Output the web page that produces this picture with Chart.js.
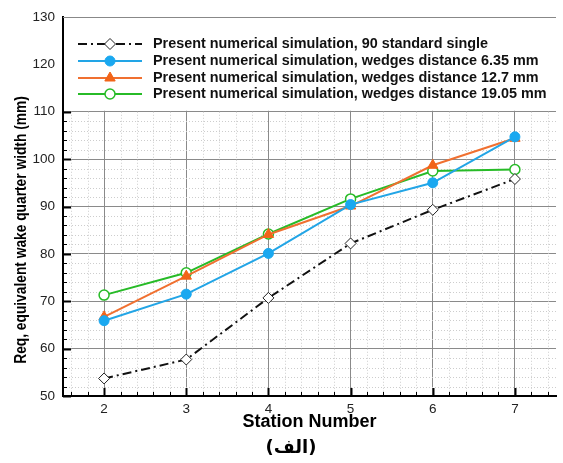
<!DOCTYPE html>
<html>
<head>
<meta charset="utf-8">
<script src="https://cdn.jsdelivr.net/npm/chart.js@4.4.1/dist/chart.umd.min.js"></script>
<style>
  body { margin: 0; background: #fff; }
  #wrap { width: 563px; height: 463px; position: relative; }
</style>
</head>
<body>
<div id="wrap"><canvas id="chart"></canvas></div>
<script>
// station numbers on the x axis
var stations = [2, 3, 4, 5, 6, 7];

// equivalent wake quarter width (mm)
var standardSingle = [53.7, 57.7, 70.7, 82.2, 89.3, 95.8];
var wedges635 = [65.9, 71.5, 80.1, 90.4, 95.0, 104.7];
var wedges127 = [66.7, 75.3, 84.1, 90.1, 98.7, 104.4];
var wedges1905 = [71.3, 76.0, 84.2, 91.6, 97.5, 97.8];

var seriesNames = [
    'Present numerical simulation, 90 standard single',
    'Present numerical simulation, wedges distance 6.35 mm',
    'Present numerical simulation, wedges distance 12.7 mm',
    'Present numerical simulation, wedges distance 19.05 mm'
];

var yTicks = [50, 60, 70, 80, 90, 100, 110, 120, 130];
var xTitle = 'Station Number';
var yTitle = 'Req, equivalent wake quarter width (mm)';
var caption = '(الف)';

var FONT = "'Liberation Sans', Arial, sans-serif";

function pts(vals) {
    return stations.map(function (s, i) { return { x: s, y: vals[i] }; });
}

// grid extras, white legend panel, inward ticks, titles
var decor = {
    id: 'decor',
    beforeDatasetsDraw: function (chart) {
        var ctx = chart.ctx;
        var a = chart.chartArea;
        var xs = chart.scales.x, ys = chart.scales.y;
        var y110 = ys.getPixelForValue(110);
        var v, p, i;

        ctx.save();
        // minor dotted grid
        ctx.strokeStyle = '#cdcdcd';
        ctx.lineWidth = 1;
        ctx.setLineDash([1, 2]);
        for (i = 8; i <= 37; i++) {
            v = i / 5;
            if (i % 5 === 0) continue;
            p = Math.round(xs.getPixelForValue(v)) + 0.5;
            ctx.beginPath(); ctx.moveTo(p, y110); ctx.lineTo(p, a.bottom); ctx.stroke();
        }
        for (v = 52; v < 110; v += 2) {
            if (v % 10 === 0) continue;
            p = Math.round(ys.getPixelForValue(v)) + 0.5;
            ctx.beginPath(); ctx.moveTo(a.left, p); ctx.lineTo(a.right, p); ctx.stroke();
        }
        ctx.setLineDash([]);

        // legend panel covers the top of the plot
        ctx.fillStyle = '#fff';
        ctx.fillRect(a.left + 1, a.top, a.right - a.left, y110 - a.top - 1);
        ctx.strokeStyle = '#888';
        ctx.beginPath(); ctx.moveTo(a.left, a.top + 0.5); ctx.lineTo(a.right, a.top + 0.5); ctx.stroke();

        // inward ticks on left axis
        ctx.strokeStyle = '#000';
        for (v = 50; v <= 110; v += 2) {
            p = Math.round(ys.getPixelForValue(v)) + 0.5;
            var major = v % 10 === 0;
            ctx.lineWidth = major ? 2 : 1;
            ctx.beginPath(); ctx.moveTo(a.left, p); ctx.lineTo(a.left + (major ? 8 : 4), p); ctx.stroke();
        }
        // inward ticks on bottom axis
        for (i = 8; i <= 37; i++) {
            v = i / 5;
            p = Math.round(xs.getPixelForValue(v)) + 0.5;
            var maj = i % 5 === 0;
            ctx.lineWidth = maj ? 2 : 1;
            ctx.beginPath(); ctx.moveTo(p, a.bottom); ctx.lineTo(p, a.bottom - (maj ? 8 : 4)); ctx.stroke();
        }

        // legend entries
        var rows = [44, 61, 78, 94];
        chart.data.datasets.forEach(function (ds, k) {
            var y = rows[k];
            ctx.strokeStyle = ds.borderColor;
            ctx.lineWidth = ds.borderWidth;
            ctx.setLineDash(ds.borderDash || []);
            ctx.beginPath(); ctx.moveTo(78, y); ctx.lineTo(142, y); ctx.stroke();
            ctx.setLineDash([]);
            ctx.fillStyle = ds.pointBackgroundColor;
            ctx.strokeStyle = ds.pointBorderColor;
            ctx.lineWidth = ds.pointBorderWidth;
            Chart.helpers.drawPoint(ctx, {
                pointStyle: ds.pointStyle, radius: ds.pointRadius,
                rotation: 0, borderWidth: ds.pointBorderWidth
            }, 110, y);
            ctx.fillStyle = '#111';
            ctx.font = 'bold 14.4px ' + FONT;
            ctx.textBaseline = 'middle';
            ctx.textAlign = 'left';
            ctx.fillText(ds.label, 153, y + 0.5);
        });
        ctx.restore();
    },
    afterDraw: function (chart) {
        var ctx = chart.ctx;
        var a = chart.chartArea;
        ctx.save();
        ctx.fillStyle = '#000';
        ctx.textAlign = 'center';
        ctx.textBaseline = 'middle';
        ctx.font = 'bold 18px ' + FONT;
        ctx.fillText(xTitle, (a.left + a.right) / 2, 422);
        ctx.font = "bold 18px 'DejaVu Sans', sans-serif";
        ctx.fillText(caption, 291, 448);
        ctx.translate(22, 230);
        ctx.rotate(-Math.PI / 2);
        ctx.scale(0.86, 1);
        ctx.font = 'bold 16px ' + FONT;
        ctx.fillText(yTitle, 0, 0);
        ctx.restore();
    }
};

var ctx = document.getElementById('chart').getContext('2d');
var myChart = new Chart(ctx, {
    type: 'line',
    data: {
        datasets: [{
            label: seriesNames[0],
            data: pts(standardSingle),
            borderColor: '#111',
            borderWidth: 2,
            borderDash: [9, 4, 2, 4],
            pointStyle: 'rectRot',
            pointRadius: 5.5,
            pointBackgroundColor: '#fff',
            pointBorderColor: '#222',
            pointBorderWidth: 1
        }, {
            label: seriesNames[1],
            data: pts(wedges635),
            borderColor: '#22a5e6',
            borderWidth: 2,
            pointStyle: 'circle',
            pointRadius: 5,
            pointBackgroundColor: '#1aa8f0',
            pointBorderColor: '#1aa8f0',
            pointBorderWidth: 1
        }, {
            label: seriesNames[2],
            data: pts(wedges127),
            borderColor: '#f07030',
            borderWidth: 2,
            pointStyle: 'triangle',
            pointRadius: 6,
            pointBackgroundColor: '#f26418',
            pointBorderColor: '#f26418',
            pointBorderWidth: 1
        }, {
            label: seriesNames[3],
            data: pts(wedges1905),
            borderColor: '#27bb27',
            borderWidth: 2,
            pointStyle: 'circle',
            pointRadius: 5,
            pointBackgroundColor: '#fff',
            pointBorderColor: '#27bb27',
            pointBorderWidth: 1.5
        }]
    },
    options: {
        responsive: true,
        maintainAspectRatio: false,
        animation: false,
        layout: { padding: { top: 17, right: 7, left: 0, bottom: 0 } },
        plugins: { legend: { display: false }, tooltip: { enabled: false } },
        scales: {
            x: {
                type: 'linear',
                min: 1.5,
                max: 7.5,
                afterBuildTicks: function (s) { s.ticks = stations.map(function (v) { return { value: v }; }); },
                afterFit: function (s) { s.height = 67; },
                grid: { color: '#8a8a8a', lineWidth: 1, drawTicks: false },
                border: { color: '#000', width: 2 },
                ticks: { padding: 5, color: '#222', font: { family: FONT, size: 13.5 } }
            },
            y: {
                min: 50,
                max: 130,
                afterBuildTicks: function (s) { s.ticks = yTicks.map(function (v) { return { value: v }; }); },
                afterFit: function (s) { s.width = 63; },
                grid: { color: '#8a8a8a', lineWidth: 1, drawTicks: false },
                border: { color: '#000', width: 2 },
                ticks: { padding: 8, color: '#222', font: { family: FONT, size: 13.5 } }
            }
        }
    },
    plugins: [decor]
});
</script>
</body>
</html>
